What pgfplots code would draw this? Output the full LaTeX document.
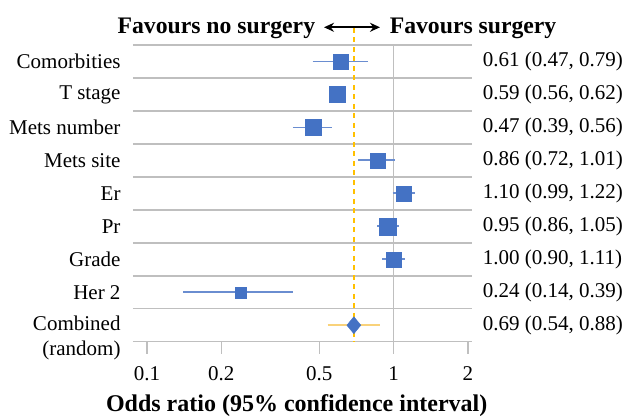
\documentclass[border=0pt]{standalone}
\usepackage{fontspec}
\setmainfont{Liberation Serif}
\usepackage{pgfplots}
\pgfplotsset{compat=1.18}
\usepackage{pgfplotstable}
\usetikzlibrary{arrows.meta}
\definecolor{sqblue}{HTML}{4472C4}
\definecolor{ciblue}{HTML}{6A8DD0}
\definecolor{gold}{HTML}{FFC000}
\definecolor{ciorange}{HTML}{F9D27A}
\definecolor{gridgray}{HTML}{BFBFBF}

\pgfplotstableread{
row or lo hi ms
1 0.61 0.47 0.79 7.5
2 0.59 0.56 0.62 8
3 0.47 0.39 0.56 8
4 0.86 0.72 1.01 7.5
5 1.10 0.99 1.22 7.5
6 0.95 0.86 1.05 8.5
7 1.00 0.90 1.11 7.5
8 0.24 0.14 0.39 5.5
}\studies

\begin{document}
\begin{tikzpicture}
\useasboundingbox (0,0) rectangle (630bp,418bp);
\begin{axis}[
 at={(133bp,76.3bp)}, anchor=south west,
 scale only axis, width=339bp, height=296.7bp,
 xmode=log, xmin=0.0877, xmax=2.08,
 ymin=0.5, ymax=9.5, y dir=reverse,
 clip=false,
 axis line style={draw=none},
 xminorticks=false,
 xtick={0.1,0.2,0.5,1,2}, xticklabels={0.1,0.2,0.5,1,2},
 xtick pos=bottom, ytick pos=left,
 tick align=outside, major tick length=12bp,
 xtick style={draw=gridgray, line width=1.5bp},
 ytick={1,...,8},
 yticklabels={Comorbities,T stage,Mets number,Mets site,Er,Pr,Grade,Her 2},
 ytick style={draw=none},
 extra y ticks={9}, extra y tick labels={{Combined\\(random)}},
 extra y tick style={ytick style={draw=none}, yticklabel style={yshift=-12.5bp}},
 minor ytick={0.5,1.5,...,9.5},
 yminorgrids=true,
 minor grid style={draw=gridgray, line width=1.5bp},
 minor tick length=0pt,
 tick label style={font=\fontsize{21bp}{25bp}\selectfont},
 yticklabel style={align=right, xshift=3bp},
 xticklabel style={yshift=-9bp},
 xlabel={Odds ratio (95\% confidence interval)},
 xlabel style={font=\bfseries\fontsize{24bp}{28bp}\selectfont, at={(axis description cs:0.4829,0)}, anchor=base, yshift=-70bp, inner sep=0pt},
]
% reference line at 1
\addplot[gridgray, line width=1.5bp] coordinates {(1,0.5) (1,9.5)};
% pooled estimate line
\addplot[gold, line width=2.5bp, dash pattern=on 5bp off 4.5bp] coordinates {(0.69,-0.02) (0.69,9.5)};
% confidence intervals
\addplot[ciblue, line width=1.8bp] coordinates {(0.47,1) (0.79,1)};
\addplot[ciblue, line width=1.8bp] coordinates {(0.56,2) (0.62,2)};
\addplot[ciblue, line width=1.8bp] coordinates {(0.39,3) (0.56,3)};
\addplot[ciblue, line width=1.8bp] coordinates {(0.72,4) (1.01,4)};
\addplot[ciblue, line width=1.8bp] coordinates {(0.99,5) (1.22,5)};
\addplot[ciblue, line width=1.8bp] coordinates {(0.86,6) (1.05,6)};
\addplot[ciblue, line width=1.8bp] coordinates {(0.90,7) (1.11,7)};
\addplot[ciblue, line width=1.8bp] coordinates {(0.14,8) (0.39,8)};
\addplot[ciorange, line width=1.9bp] coordinates {(0.54,9) (0.88,9)};
% point estimates
\addplot[scatter, only marks, mark=square*,
 scatter/use mapped color={draw=sqblue, fill=sqblue},
 visualization depends on={\thisrow{ms} \as \ms},
 scatter/@pre marker code/.append style={/tikz/mark size=\ms}]
 table[x=or, y=row] {\studies};
\addplot[only marks, mark=diamond*, mark size=8.5bp, sqblue, mark options={xscale=1.1}] coordinates {(0.69,9)};
% estimates as text
\begin{scope}[every node/.style={anchor=west, inner sep=0pt, xshift=10.7bp, font=\fontsize{21bp}{25bp}\selectfont}]
\node at (axis cs:2.08,1) {0.61 (0.47, 0.79)};
\node at (axis cs:2.08,2) {0.59 (0.56, 0.62)};
\node at (axis cs:2.08,3) {0.47 (0.39, 0.56)};
\node at (axis cs:2.08,4) {0.86 (0.72, 1.01)};
\node at (axis cs:2.08,5) {1.10 (0.99, 1.22)};
\node at (axis cs:2.08,6) {0.95 (0.86, 1.05)};
\node at (axis cs:2.08,7) {1.00 (0.90, 1.11)};
\node at (axis cs:2.08,8) {0.24 (0.14, 0.39)};
\node at (axis cs:2.08,9) {0.69 (0.54, 0.88)};
\end{scope}
\end{axis}
\node[anchor=base east, inner sep=0pt, font=\bfseries\fontsize{23.7bp}{28bp}\selectfont] at (315.3bp,384bp) {Favours no surgery};
\node[anchor=base west, inner sep=0pt, font=\bfseries\fontsize{23.7bp}{28bp}\selectfont] at (389.6bp,384bp) {Favours surgery};
\draw[{Stealth[length=10bp,width=9bp]}-{Stealth[length=10bp,width=9bp]}, line width=1.8bp] (324bp,390.7bp) -- (380bp,390.7bp);
\end{tikzpicture}
\end{document}
